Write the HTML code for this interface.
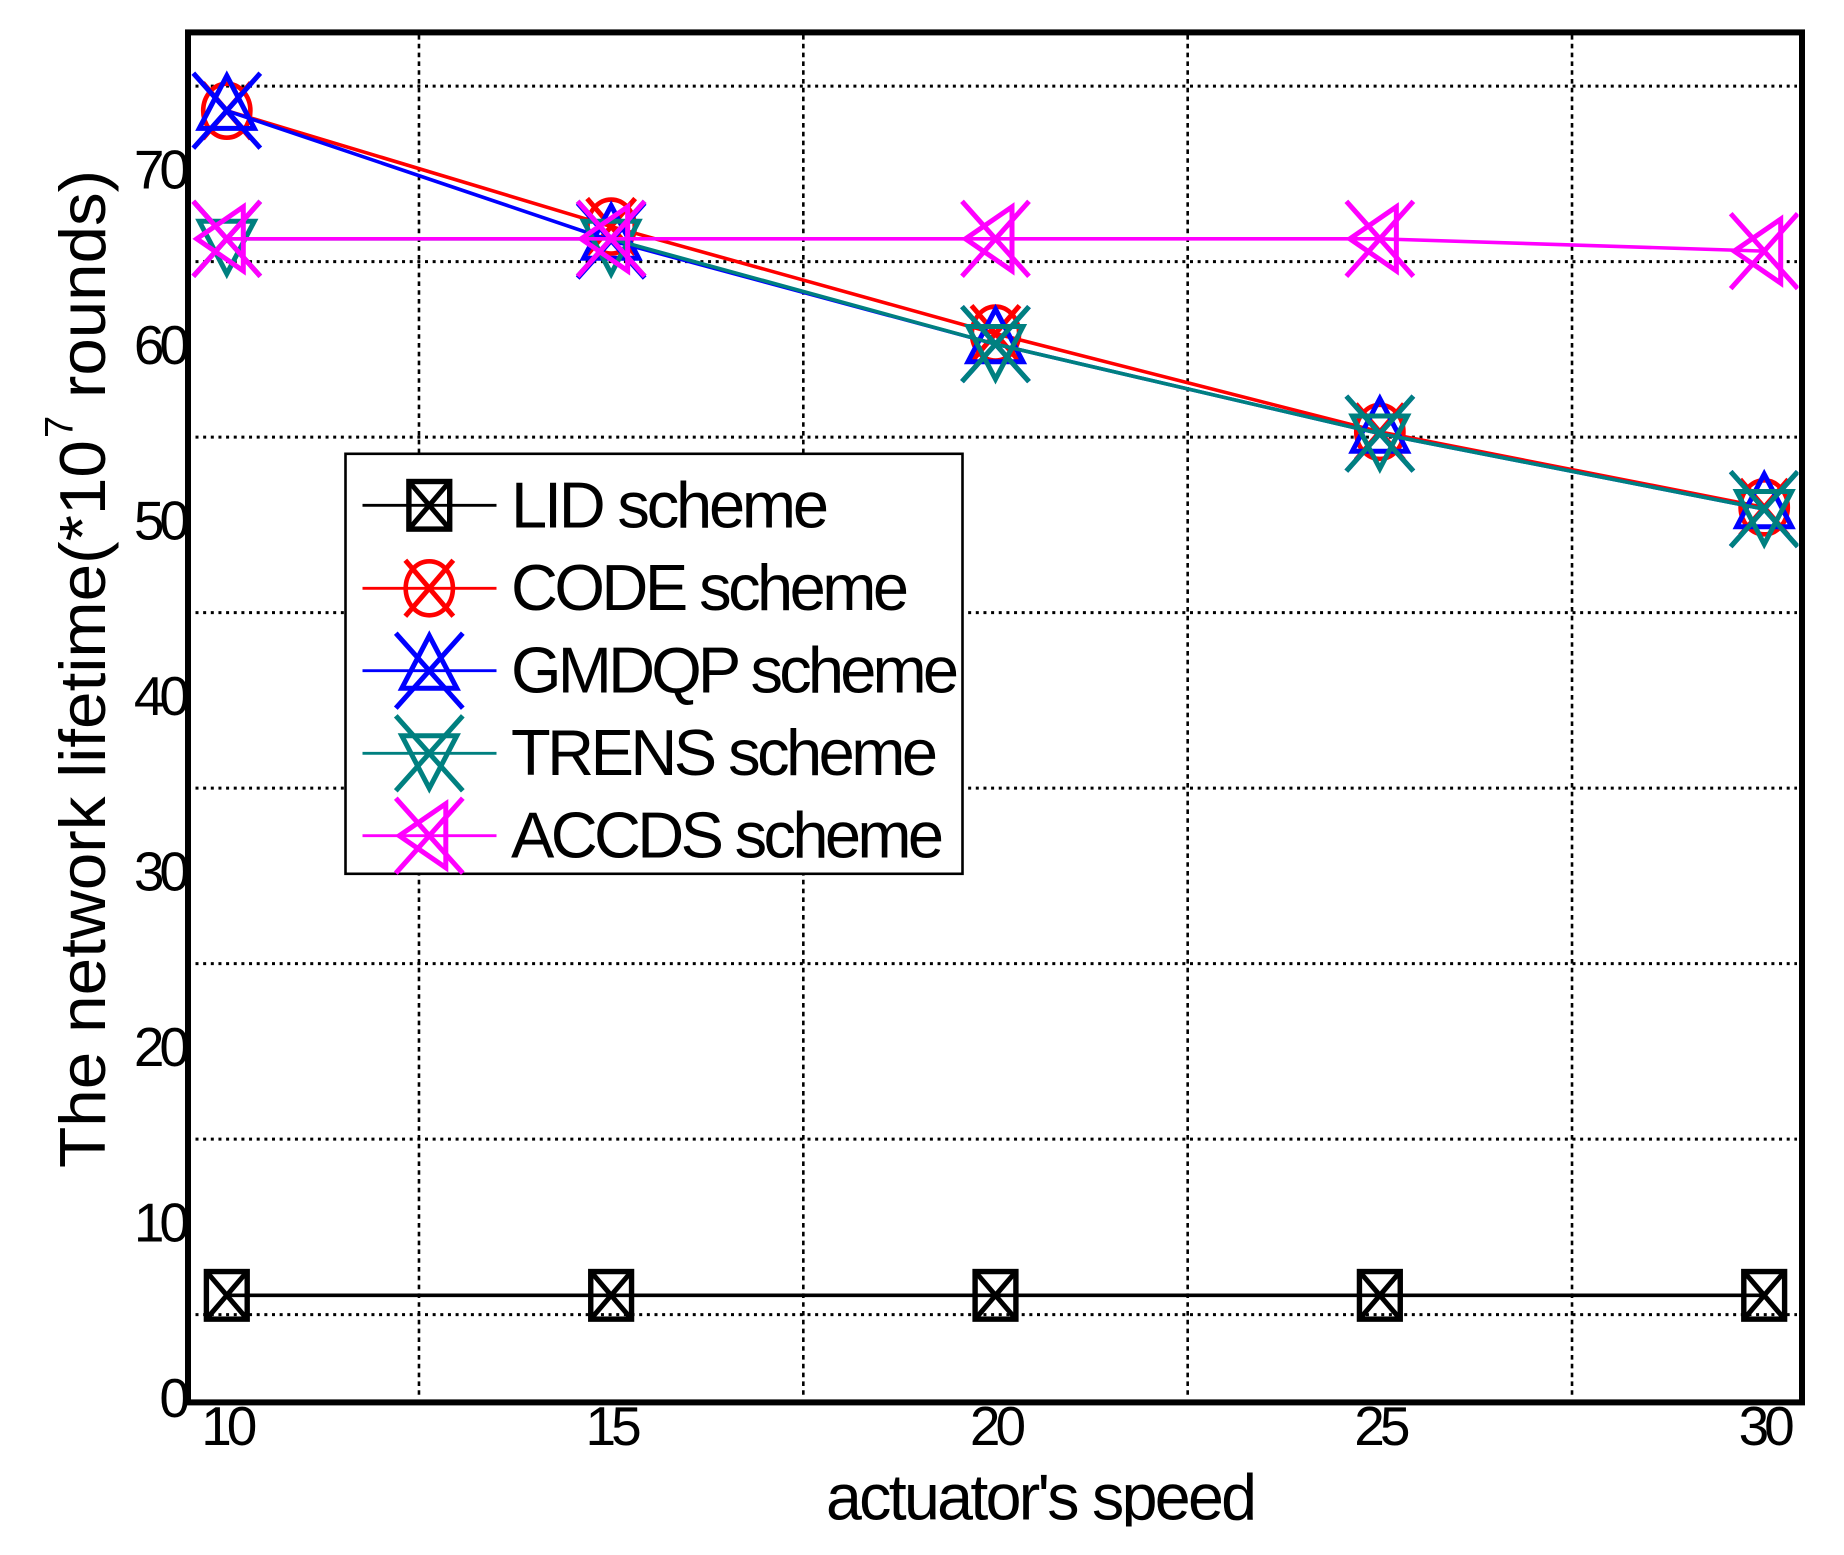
<!DOCTYPE html>
<html lang="en">
<head>
<meta charset="utf-8">
<title>Network lifetime vs actuator's speed</title>
<style>
html,body{margin:0;padding:0;background:#fff;width:1844px;height:1555px;overflow:hidden}
svg{display:block}
text{font-family:"Liberation Sans",Arial,sans-serif;fill:#000}
</style>
</head>
<body>
<svg id="chart" xmlns="http://www.w3.org/2000/svg" width="1844" height="1555" viewBox="0 0 1844 1555">
  <defs>
    <clipPath id="plot-clip"><rect x="191" y="35" width="1607.5" height="1364"/></clipPath>
    <clipPath id="x-title-clip"><rect x="800" y="1460" width="500" height="66.5"/></clipPath>
  </defs>
  <rect x="0" y="0" width="1844" height="1555" fill="#fff"/>
  <g id="grid"></g>
  <g id="series" clip-path="url(#plot-clip)"></g>
  <rect x="188" y="32.4" width="1614" height="1370" fill="none" stroke="#000" stroke-width="6"/>
  <g id="ticks"></g>

  <g clip-path="url(#x-title-clip)">
    <text x="826" y="1519.3" font-size="64.5" textLength="431" lengthAdjust="spacing">actuator's speed</text>
  </g>
  <text transform="translate(105 1168) rotate(-90)" font-size="64.5" textLength="728" lengthAdjust="spacingAndGlyphs">The network lifetime(*10</text>
  <text transform="translate(72.7 438) rotate(-90)" font-size="40">7</text>
  <text transform="translate(105 398) rotate(-90)" font-size="64.5" textLength="228" lengthAdjust="spacingAndGlyphs">rounds)</text>

  <g>
    <rect x="345.5" y="453.8" width="617" height="420" fill="#fff" stroke="#000" stroke-width="2.6"/>
    <g id="legend-keys"></g>
    <text x="511" y="527.7" font-size="65" textLength="318" lengthAdjust="spacing">LID scheme</text>
    <text x="511" y="610.2" font-size="65" textLength="398" lengthAdjust="spacing">CODE scheme</text>
    <text x="511" y="692.7" font-size="65" textLength="448" lengthAdjust="spacing">GMDQP scheme</text>
    <text x="511" y="775.2" font-size="65" textLength="427" lengthAdjust="spacing">TRENS scheme</text>
    <text x="511" y="857.7" font-size="65" textLength="433" lengthAdjust="spacing">ACCDS scheme</text>
  </g>
</svg>
<script>
const xValues = [10, 15, 20, 25, 30];
const lidValues = [6.1, 6.1, 6.1, 6.1, 6.1];
const codeValues = [73.6, 67.0, 60.9, 55.3, 51.0];
const gmdqpValues = [73.6, 66.2, 60.3, 55.2, 50.9];
const trensValues = [66.3, 66.3, 60.3, 55.2, 50.9];
const accdsValues = [66.3, 66.3, 66.3, 66.3, 65.6];
const xTickLabels = ['10', '15', '20', '25', '30'];
const yTickValues = [0, 10, 20, 30, 40, 50, 60, 70];
const yTickLabels = ['0', '10', '20', '30', '40', '50', '60', '70'];
const xGridValues = [12.5, 17.5, 22.5, 27.5];
const yGridValues = [5, 15, 25, 35, 45, 55, 65, 75];

const NS = 'http://www.w3.org/2000/svg';
function xScale(v) { return 226.8 + (v - 10) * 76.87; }
function yScale(v) { return 1402.4 - v * 17.55; }
function make(tag, attrs, parent) {
  const n = document.createElementNS(NS, tag);
  for (const k in attrs) n.setAttribute(k, attrs[k]);
  parent.appendChild(n);
  return n;
}

const gridGroup = document.getElementById('grid');
xGridValues.forEach(function (v) {
  const line = make('line', {x1: xScale(v), x2: xScale(v), y1: 35, y2: 1396, stroke: '#000', 'stroke-width': 2.6, 'stroke-dasharray': '4.6 4.2'}, gridGroup);
  
  
});
yGridValues.forEach(function (v) {
  const line = make('line', {x1: 195.5, x2: 1797, y1: yScale(v), y2: yScale(v), stroke: '#000', 'stroke-width': 3, 'stroke-dasharray': '3 4.65'}, gridGroup);
  
  
});

function xMark(g, cx, cy, hx, hy, color) {
  make('path', {d: 'M' + (cx - hx) + ' ' + (cy - hy) + 'L' + (cx + hx) + ' ' + (cy + hy) + 'M' + (cx - hx) + ' ' + (cy + hy) + 'L' + (cx + hx) + ' ' + (cy - hy), fill: 'none', stroke: color, 'stroke-width': 5}, g);
}
function poly(g, pts, color) {
  make('polygon', {points: pts.map(function (p) { return p.join(','); }).join(' '), fill: 'none', stroke: color, 'stroke-width': 5}, g);
}
const markers = {
  square: function (g, x, y, c) {
    make('rect', {x: x - 20.4, y: y - 23.8, width: 40.8, height: 47.6, fill: 'none', stroke: c, 'stroke-width': 5.4}, g);
    xMark(g, x, y, 20.4, 23.8, c);
  },
  circle: function (g, x, y, c) {
    make('ellipse', {cx: x, cy: y, rx: 23.6, ry: 27, fill: 'none', stroke: c, 'stroke-width': 4.6}, g);
    xMark(g, x, y, 24, 28, c);
  },
  up: function (g, x, y, c) {
    poly(g, [[x, y - 35], [x + 27.5, y + 17.6], [x - 27.5, y + 17.6]], c);
    xMark(g, x, y, 33.5, 37.5, c);
  },
  down: function (g, x, y, c) {
    poly(g, [[x, y + 35], [x + 27.5, y - 17.6], [x - 27.5, y - 17.6]], c);
    xMark(g, x, y, 33.5, 37.5, c);
  },
  left: function (g, x, y, c) {
    poly(g, [[x - 30, y], [x + 16.5, y - 32], [x + 16.5, y + 32]], c);
    xMark(g, x, y, 33.5, 37.5, c);
  }
};

const seriesGroup = document.getElementById('series');
function drawSeries(name, values, color, marker) {
  const g = make('g', {}, seriesGroup);
  
  
  const pts = values.map(function (v, i) { return xScale(xValues[i]) + ',' + yScale(v); }).join(' ');
  const line = make('polyline', {points: pts, fill: 'none', stroke: color, 'stroke-width': 3.6}, g);
  
  
  values.forEach(function (v, i) {
    const m = make('g', {}, g);
    
    
    markers[marker](m, xScale(xValues[i]), yScale(v), color);
  });
}
drawSeries('lid', lidValues, '#000000', 'square');
drawSeries('code', codeValues, '#ff0000', 'circle');
drawSeries('gmdqp', gmdqpValues, '#0000ff', 'up');
drawSeries('trens', trensValues, '#008080', 'down');
drawSeries('accds', accdsValues, '#ff00ff', 'left');

const tickGroup = document.getElementById('ticks');
yTickValues.forEach(function (v, i) {
  const label = yTickLabels[i];
  const t = make('text', {x: 185, y: yScale(v) + 14.5, 'font-size': 55, 'text-anchor': 'end', 'letter-spacing': '-5'}, tickGroup);
  
  
  t.textContent = label;
});
xValues.forEach(function (v, i) {
  const t = make('text', {x: xScale(v), y: 1445, 'font-size': 55, 'text-anchor': 'middle', 'letter-spacing': '-5'}, tickGroup);
  
  
  t.textContent = xTickLabels[i];
});

const legendKeys = document.getElementById('legend-keys');
function drawKey(name, y, color, marker) {
  const g = make('g', {}, legendKeys);
  
  
  make('line', {x1: 362.5, x2: 496.5, y1: y, y2: y, stroke: color, 'stroke-width': 2.8}, g);
  markers[marker](g, 429.3, y, color);
}
drawKey('lid', 505.3, '#000000', 'square');
drawKey('code', 588.3, '#ff0000', 'circle');
drawKey('gmdqp', 670.7, '#0000ff', 'up');
drawKey('trens', 753.3, '#008080', 'down');
drawKey('accds', 835.7, '#ff00ff', 'left');
</script>
</body>
</html>
